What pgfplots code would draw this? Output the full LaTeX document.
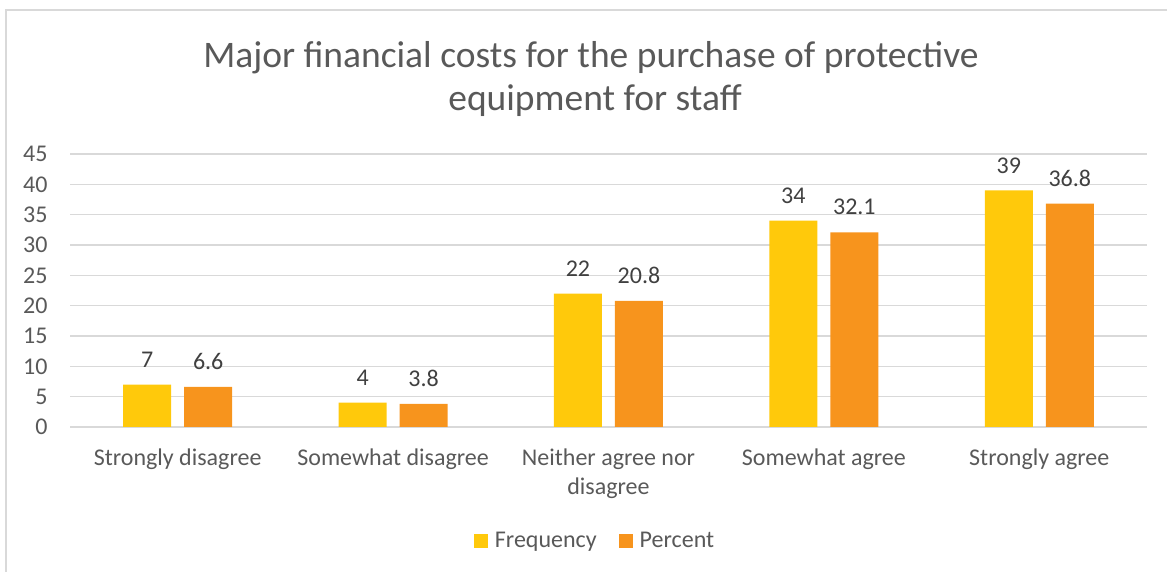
\documentclass[border=0pt]{standalone}
\usepackage{pgfplots}
\pgfplotsset{compat=1.18}
\usepackage{fontspec}
\setmainfont{Carlito}
\definecolor{yel}{HTML}{FFC90B}
\definecolor{org}{HTML}{F7941D}
\definecolor{txt}{HTML}{595959}
\definecolor{lbl}{HTML}{404040}
\definecolor{grd}{HTML}{D9D9D9}
\begin{document}
\begin{tikzpicture}[x=1pt,y=1pt]
\useasboundingbox (0,0) rectangle (1167,572);
\draw[grd, line width=1.5pt] (6,0) -- (6,562) -- (1167,562);
\node[anchor=base, text=txt, font=\fontsize{37.5}{44}\selectfont] at (591,504) {Major financial costs for the purchase of protective};
\node[anchor=base, text=txt, font=\fontsize{37.5}{44}\selectfont] at (595,461) {equipment for staff};
\begin{axis}[
  at={(70pt,145pt)}, anchor=south west,
  scale only axis, width=1077pt, height=273pt,
  xmin=-0.5, xmax=4.5, ymin=0, ymax=45,
  ytick={0,5,...,45},
  xtick=data,
  xticklabels={Strongly disagree,Somewhat disagree,{Neither agree nor\\disagree},Somewhat agree,Strongly agree},
  xticklabel style={align=center, text=txt, font=\fontsize{24}{29}\selectfont, yshift=-14pt},
  yticklabel style={text=txt, font=\fontsize{24}{28}\selectfont, xshift=-19pt},
  /pgf/number format/assume math mode=true,
  axis line style={draw=none},
  major tick style={draw=none},
  ymajorgrids, grid style={grd, line width=1.3pt},
  ybar=13pt, bar width=48pt,
  nodes near coords,
  every node near coord/.append style={text=lbl, font=\fontsize{24}{28}\selectfont, anchor=south, inner sep=0pt, yshift=17pt},
  legend columns=2,
  legend style={draw=none, at={(axis description cs:0.4875,-0.4176)}, anchor=center, font=\fontsize{24}{28}\selectfont, text=txt, /tikz/every even column/.append style={column sep=20pt}},
  legend image code/.code={\fill[#1] (0pt,-7pt) rectangle (14pt,7pt); \path (19pt,0pt);},
]
\addplot[fill=yel, draw=none] coordinates {(0,7) (1,4) (2,22) (3,34) (4,39)};
\addplot[fill=org, draw=none] coordinates {(0,6.6) (1,3.8) (2,20.8) (3,32.1) (4,36.8)};
\legend{Frequency,Percent}
\end{axis}
\end{tikzpicture}
\end{document}
